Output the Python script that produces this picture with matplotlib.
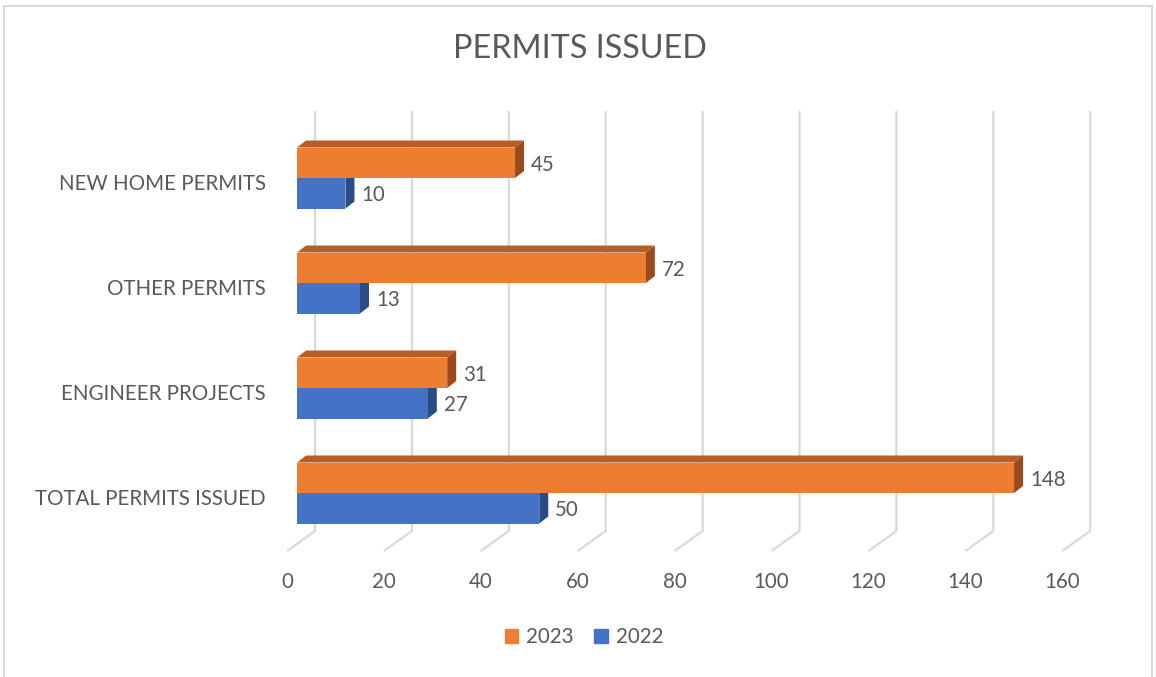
import matplotlib.pyplot as plt
from matplotlib.patches import Polygon, Rectangle, Patch

plt.rcParams['font.family'] = ['Lato', 'DejaVu Sans']

categories = ['TOTAL PERMITS ISSUED', 'ENGINEER PROJECTS', 'OTHER PERMITS', 'NEW HOME PERMITS']
values_2023 = [148, 31, 72, 45]
values_2022 = [50, 27, 13, 10]
x_ticks = [0, 20, 40, 60, 80, 100, 120, 140, 160]

TEXT = '#595959'
GRID = '#D9D9D9'
faces = {
    '2023': ('#ED7D31', '#B65E26', '#9A4A1B'),   # front, top, side
    '2022': ('#4472C4', '#3A61A6', '#2C4C86'),
}

W, H = 1156, 677
fig = plt.figure(figsize=(W / 100, H / 100), dpi=100)

# plot area in pixels; value v sits at x = 297 + 4.845 v, category i at y = 493 - 105 i
PX_X = 4.845
PX_Y = 105.0
AX_L, AX_R, AX_T, AX_B = 280, 1100, 100, 600
ax = fig.add_axes([AX_L / W, 1 - AX_B / H, (AX_R - AX_L) / W, (AX_B - AX_T) / H])
ax.set_xlim((AX_L - 297) / PX_X, (AX_R - 297) / PX_X)
ax.set_ylim((493 - AX_B) / PX_Y, (493 - AX_T) / PX_Y)
ax.axis('off')

def ux(px):
    return px / PX_X

def uy(px):
    return px / PX_Y

# back wall gridlines and floor ticks
back = ux(18)
y_top, y_floor, y_front = uy(493 - 111), uy(493 - 531), uy(493 - 551)
for t in x_ticks:
    xb = t + back
    ax.plot([xb, xb, xb - ux(28)], [y_top, y_floor, y_front], color=GRID, lw=1.6,
            solid_capstyle='butt', zorder=1)
    ax.text(xb - ux(28), uy(493 - 582), str(t), ha='center', va='center',
            fontsize=14.8, color=TEXT)

h = uy(30.5)
dx, dy = ux(9), uy(7)
ypos = list(range(len(categories)))

def bar3d(y0, vals, key):
    front, top, side = faces[key]
    ax.barh(y0, vals, height=h, left=0, align='edge', color=front, zorder=3)
    for y, v in zip(y0, vals):
        ax.add_patch(Polygon([(0, y + h), (v, y + h), (v + dx, y + h + dy), (dx, y + h + dy)],
                             closed=True, color=top, lw=0, zorder=2))
        ax.add_patch(Polygon([(v, y), (v, y + h), (v + dx, y + h + dy), (v + dx, y + dy)],
                             closed=True, color=side, lw=0, zorder=2))
        ax.text(v + dx + ux(7), y + h / 2 - uy(2), str(v), ha='left', va='center',
                fontsize=14.8, color=TEXT, zorder=4)

bar3d([y - h for y in ypos], values_2022, '2022')
bar3d(ypos, values_2023, '2023')

for y, name in zip(ypos, categories):
    ax.text(ux(266 - 297), y - uy(6), name, ha='right', va='center', fontsize=14.8, color=TEXT)

fig.text(580 / W, 1 - 49 / H, 'PERMITS ISSUED', ha='center', va='center',
         fontsize=23.3, color=TEXT)

handles = [Patch(color=faces['2023'][0], label='2023'),
           Patch(color=faces['2022'][0], label='2022')]
fig.legend(handles=handles, loc='center', bbox_to_anchor=(584 / W, 1 - 637 / H), ncol=2,
           frameon=False, fontsize=14.8, handlelength=0.65, handleheight=0.65,
           handletextpad=0.4, columnspacing=1.0, labelcolor=TEXT)

fig.patches.append(Rectangle((4 / W, -0.05), (1152 - 4) / W, 1.05 - 6.5 / H,
                             transform=fig.transFigure, fill=False, edgecolor=GRID, lw=1.5))

fig.savefig('out.png', dpi=100, facecolor='white')
